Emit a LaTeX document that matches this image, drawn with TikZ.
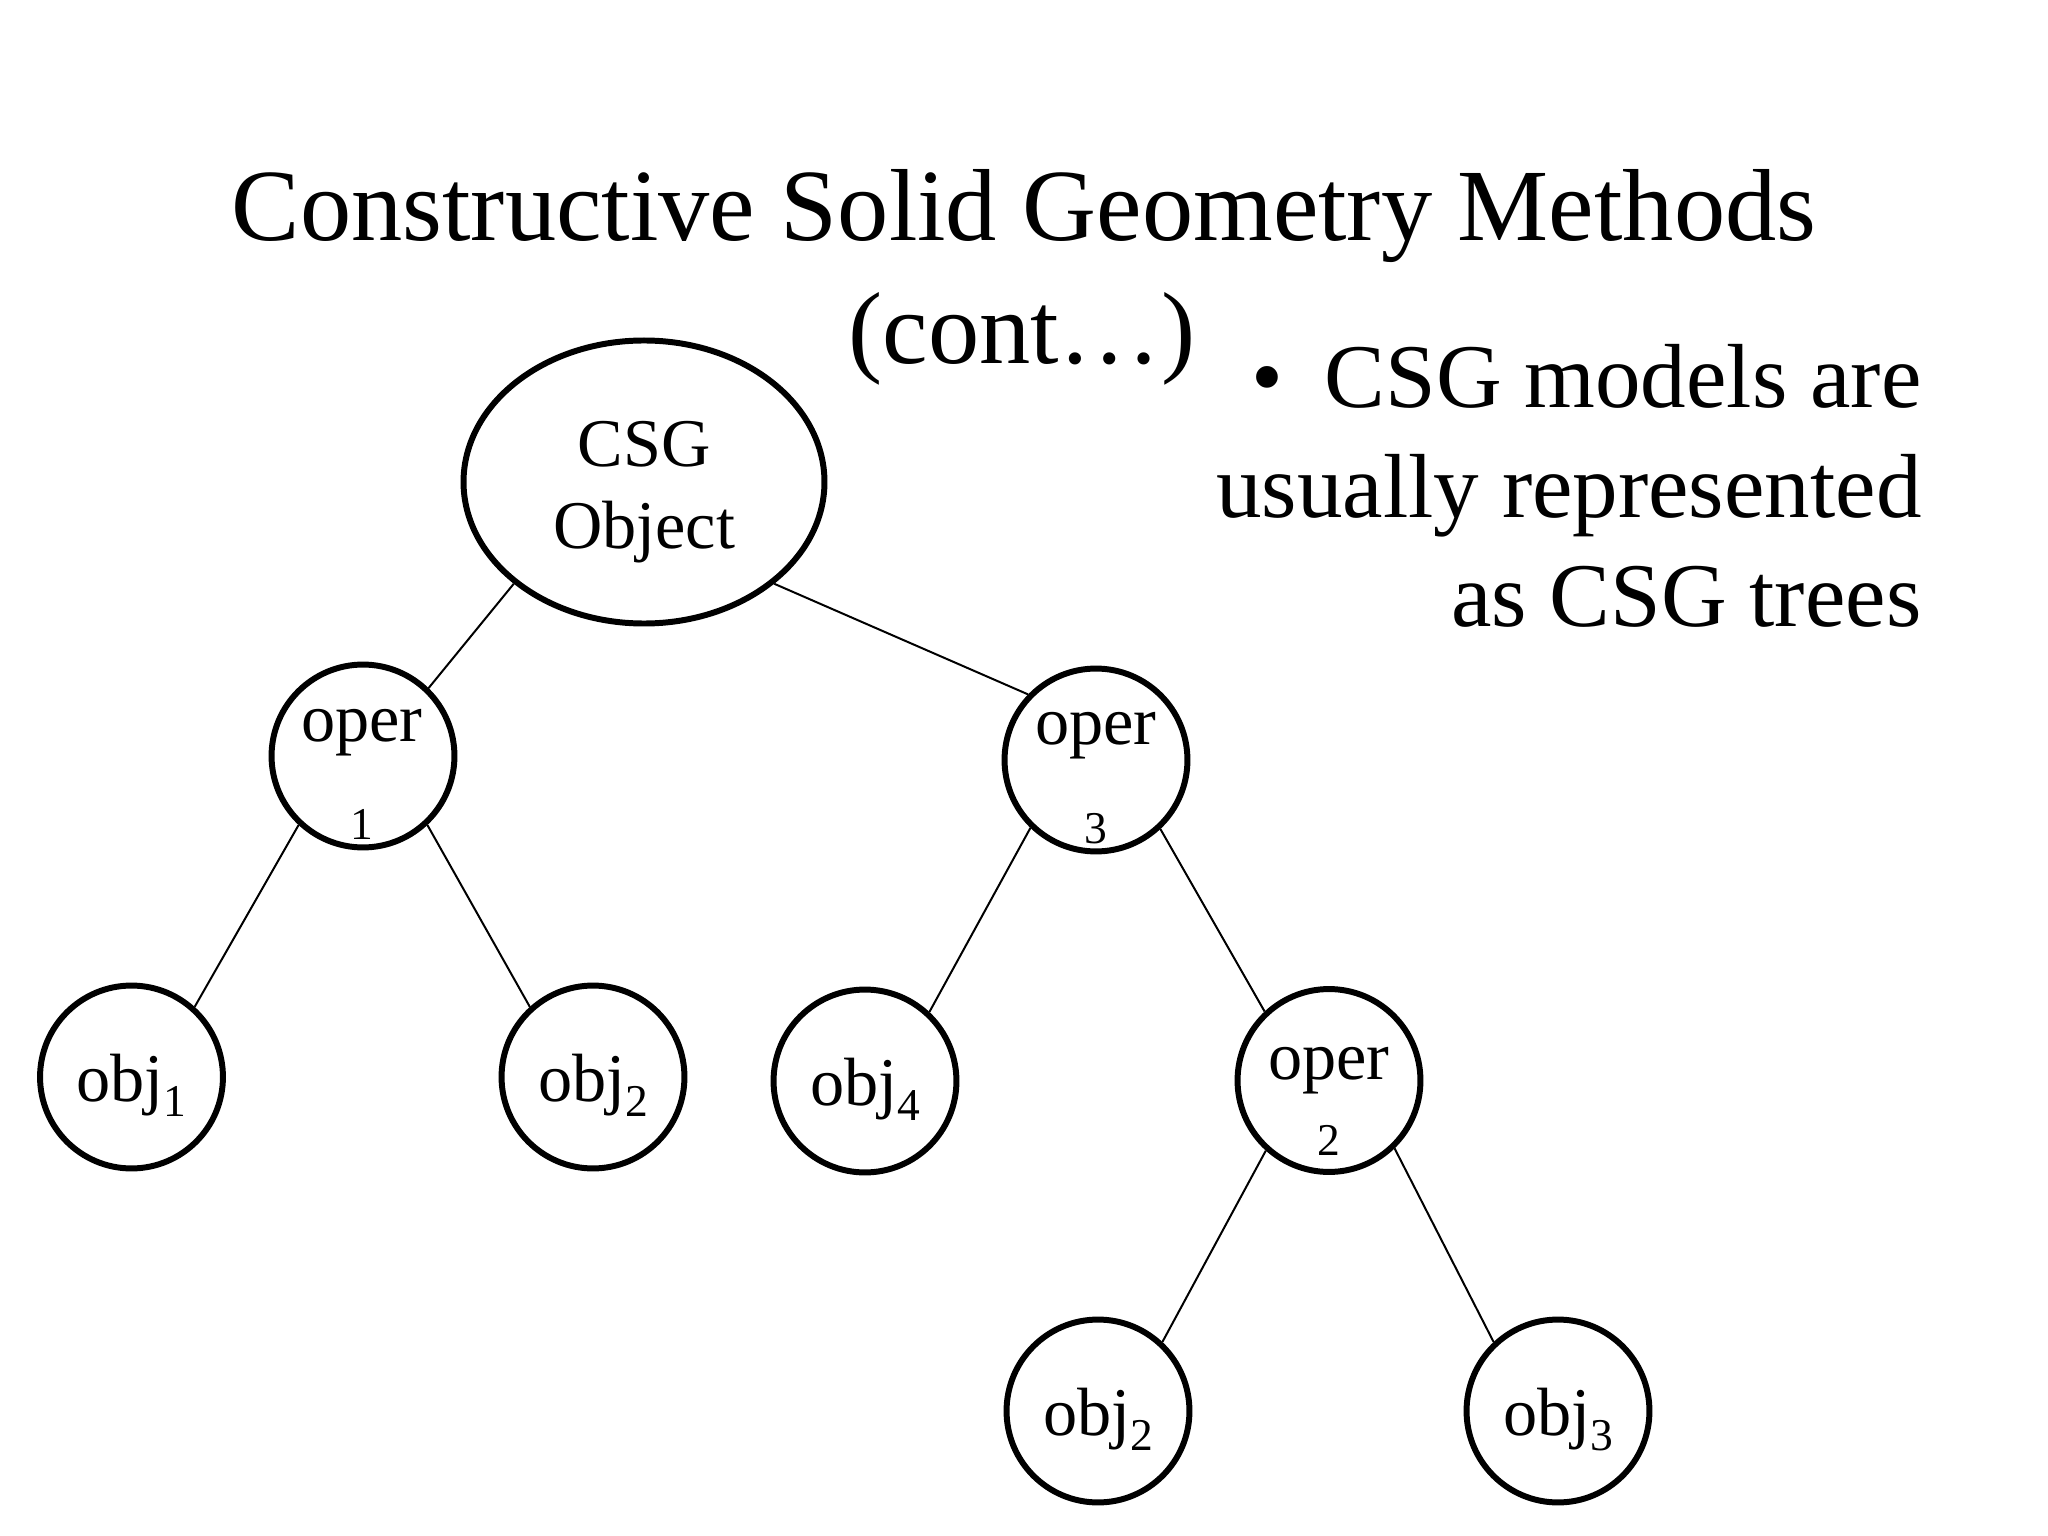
\documentclass[tikz,border=0pt]{standalone}
\usepackage{fontspec}
\setmainfont{Liberation Serif}
\usetikzlibrary{shapes.geometric}
\newcommand\mysb[1]{\raisebox{-5.6pt}{\fontsize{16}{16}\selectfont #1}}
\begin{document}
\begin{tikzpicture}[x=0.3515625pt,y=-0.3515625pt,
  treecirc/.style={draw, circle, line width=2.1pt, minimum size=64.3pt, inner sep=0pt},
  rootell/.style={draw, ellipse, line width=2.1pt, minimum width=126.9pt, minimum height=99.5pt, inner sep=0pt},
  edge/.style={line width=0.7pt},
  nodetxt/.style={anchor=base, inner sep=0pt, font=\fontsize{24}{28.8}\selectfont},
  subtxt/.style={anchor=base, inner sep=0pt, font=\fontsize{16}{19}\selectfont},
  titletxt/.style={anchor=base, inner sep=0pt, font=\fontsize{36}{43.2}\selectfont},
  bodytxt/.style={anchor=base east, inner sep=0pt, font=\fontsize{32}{38.4}\selectfont}]
\useasboundingbox (0,0) rectangle (2048,1536);
\fill[white] (0,0) rectangle (2048,1536);

% title
\node[titletxt] (t1) at (1024,241) {Constructive Solid Geometry Methods};
\node[titletxt] (t2) at (1022,364) {(cont…)};

% bullet text
\node[anchor=base, inner sep=0pt, font=\fontsize{32}{38.4}\selectfont] (bul) at (1267,408) {•};
\node[bodytxt] (b1) at (1922,408) {CSG models are};
\node[bodytxt] (b2) at (1922,518) {usually represented};
\node[bodytxt] (b3) at (1922,627) {as CSG trees};

% tree nodes
\node[rootell] (root) at (644,482) {};
\node[treecirc] (op1) at (363,756) {};
\node[treecirc] (op3) at (1096,760) {};
\node[treecirc] (ob1) at (131.5,1077) {};
\node[treecirc] (ob2) at (593,1077) {};
\node[treecirc] (ob4) at (865,1081) {};
\node[treecirc] (op2) at (1329,1080.5) {};
\node[treecirc] (ob2b) at (1098,1411) {};
\node[treecirc] (ob3) at (1558,1411) {};

% labels
\node[nodetxt] (rootA) at (644,467) {CSG};
\node[nodetxt] (rootB) at (644,549) {Object};
\node[nodetxt] (op1a) at (362,741) {oper};
\node[subtxt] (op1b) at (362,839) {1};
\node[nodetxt] (op3a) at (1096,744) {oper};
\node[subtxt] (op3b) at (1096,843) {3};
\node[nodetxt] (op2a) at (1329,1079) {oper};
\node[subtxt] (op2b) at (1329,1155) {2};
\node[nodetxt] (ob1t) at (131,1101) {obj\mysb{1}};
\node[nodetxt] (ob2t) at (593,1101) {obj\mysb{2}};
\node[nodetxt] (ob4t) at (865,1105) {obj\mysb{4}};
\node[nodetxt] (ob2bt) at (1098,1435) {obj\mysb{2}};
\node[nodetxt] (ob3t) at (1558,1435) {obj\mysb{3}};

% connectors
\draw[edge] (root.218) -- (op1.46);
\draw[edge] (root.322) -- (op3.136);
\draw[edge] (op1.227) -- (ob1.48);
\draw[edge] (op1.313) -- (ob2.132);
\draw[edge] (op3.226) -- (ob4.47);
\draw[edge] (op3.313) -- (op2.133);
\draw[edge] (op2.228) -- (ob2b.47);
\draw[edge] (op2.314) -- (ob3.133);
\end{tikzpicture}
\end{document}
